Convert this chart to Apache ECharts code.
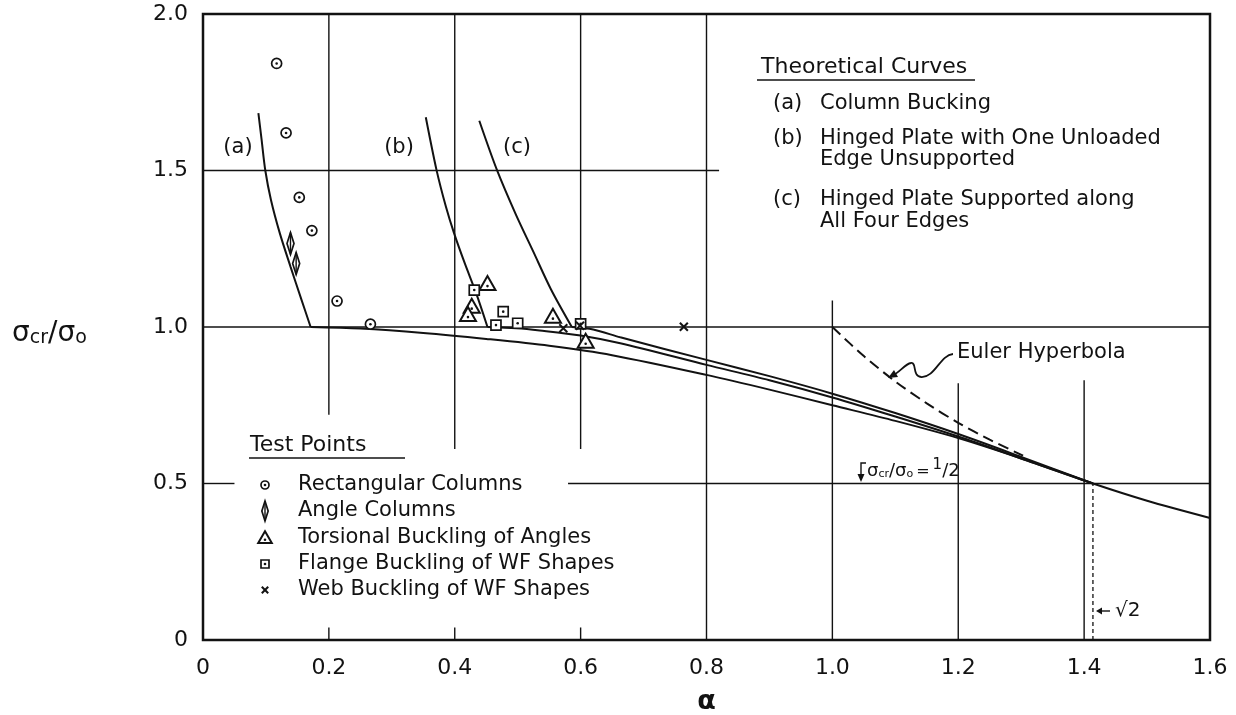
<!DOCTYPE html>
<html>
<head>
<meta charset="utf-8">
<script src="https://cdn.jsdelivr.net/npm/echarts@6/dist/echarts.min.js"></script>
<style>
  html, body { margin: 0; padding: 0; background: #fff; }
  #chart { width: 1236px; height: 715px; }
</style>
</head>
<body>
<div id="chart"></div>
<script>
// ---- axis ticks ----
const xTickLabels = ['0', '0.2', '0.4', '0.6', '0.8', '1.0', '1.2', '1.4', '1.6'];
const yTickLabels = ['0', '0.5', '1.0', '1.5', '2.0'];

// ---- theoretical curves [alpha, sigma_cr / sigma_0] ----
const curveA = [[0.088, 1.683], [0.093, 1.600], [0.099, 1.500], [0.108, 1.406], [0.122, 1.300], [0.139, 1.193], [0.156, 1.090], [0.171, 1.0]];
const curveB = [[0.354, 1.670], [0.371, 1.502], [0.386, 1.384], [0.399, 1.299], [0.416, 1.203], [0.434, 1.108], [0.452, 1.0]];
const curveC = [[0.439, 1.659], [0.467, 1.502], [0.497, 1.360], [0.525, 1.240], [0.553, 1.120], [0.586, 1.0]];
const tailB = [[0.452, 1.0], [0.498, 0.996], [0.535, 0.989], [0.6, 0.973], [0.663, 0.948], [0.8, 0.879], [0.9, 0.830], [1.0, 0.775], [1.1, 0.714], [1.2, 0.650], [1.3, 0.580], [1.414, 0.5]];
const tailC = [[0.586, 1.0], [0.62, 0.992], [0.663, 0.967], [0.8, 0.895], [0.9, 0.843], [1.0, 0.787], [1.1, 0.725], [1.2, 0.658], [1.3, 0.585], [1.414, 0.5]];
const columnCurve = [[0.171, 1.0], [0.25, 0.995], [0.35, 0.981], [0.45, 0.962], [0.55, 0.940], [0.65, 0.910], [0.8, 0.847], [0.9, 0.800], [1.0, 0.750], [1.1, 0.700], [1.2, 0.645], [1.3, 0.580], [1.414, 0.5], [1.5, 0.445], [1.6, 0.39]];
const eulerHyperbola = [[1.0, 1.0], [1.05, 0.907], [1.1, 0.826], [1.15, 0.756], [1.2, 0.694], [1.25, 0.640], [1.303, 0.589]];

// ---- test points ----
const rectangularColumns = [[0.117, 1.842], [0.132, 1.620], [0.153, 1.414], [0.173, 1.308], [0.213, 1.083], [0.266, 1.009]];
const angleColumns = [[0.139, 1.267], [0.148, 1.203]];
const torsionalAngles = [[0.452, 1.137], [0.427, 1.065], [0.421, 1.038], [0.556, 1.033], [0.608, 0.953]];
const flangeWF = [[0.431, 1.118], [0.477, 1.049], [0.4655, 1.006], [0.500, 1.012], [0.600, 1.010]];
const webWF = [[0.5725, 0.996], [0.599, 1.004], [0.764, 1.001]];

// ---- ruled lines of the chart [x1, y1, x2, y2] ----
const ruleSegments = [
  [0.2, 0.72, 0.2, 2.0], [0.2, 0, 0.2, 0.04],
  [0.4, 0.61, 0.4, 2.0], [0.4, 0, 0.4, 0.04],
  [0.6, 0.61, 0.6, 2.0], [0.6, 0, 0.6, 0.04],
  [0.8, 0, 0.8, 2.0],
  [1.0, 0, 1.0, 1.085],
  [1.2, 0, 1.2, 0.82],
  [1.4, 0, 1.4, 0.83],
  [0, 1.5, 0.82, 1.5],
  [0, 1.0, 1.6, 1.0],
  [0, 0.5, 0.05, 0.5], [0.58, 0.5, 1.6, 0.5]
];
const sqrt2Segment = [[1.414, 0, 1.414, 0.5]];

// ---- text ----
const theoryTitle = 'Theoretical Curves';
const theoryItems = [
  ['(a)', ['Column Bucking']],
  ['(b)', ['Hinged Plate with One Unloaded', 'Edge Unsupported']],
  ['(c)', ['Hinged Plate Supported along', 'All Four Edges']]
];
const testTitle = 'Test Points';
const testItems = [
  ['circle', 'Rectangular Columns'],
  ['angle', 'Angle Columns'],
  ['tri', 'Torsional Buckling of Angles'],
  ['square', 'Flange Buckling of WF Shapes'],
  ['cross', 'Web Buckling of WF Shapes']
];

const INK = '#121212';
const FONT = '"DejaVu Sans", sans-serif';

function glyph(kind, x, y, k) {
  const st = { stroke: INK, lineWidth: 1.7, fill: '#fff' };
  const dot = (dy) => ({ type: 'circle', shape: { cx: x, cy: y + (dy || 0), r: 1.3 }, style: { fill: INK } });
  switch (kind) {
    case 'circle':
      return [{ type: 'circle', shape: { cx: x, cy: y, r: 5 * k }, style: st }, dot()];
    case 'tri':
      return [{ type: 'polygon', shape: { points: [[x, y - 8 * k], [x - 8 * k, y + 6 * k], [x + 8 * k, y + 6 * k]] }, style: Object.assign({}, st, { lineWidth: 2 }) }, dot(2 * k)];
    case 'square':
      return [{ type: 'rect', shape: { x: x - 5 * k, y: y - 5 * k, width: 10 * k, height: 10 * k }, style: st }, dot()];
    case 'cross':
      return [
        { type: 'line', shape: { x1: x - 4 * k, y1: y - 4 * k, x2: x + 4 * k, y2: y + 4 * k }, style: { stroke: INK, lineWidth: 2 } },
        { type: 'line', shape: { x1: x - 4 * k, y1: y + 4 * k, x2: x + 4 * k, y2: y - 4 * k }, style: { stroke: INK, lineWidth: 2 } }
      ];
    case 'angle':
      return [
        { type: 'polygon', shape: { points: [[x, y - 11 * k], [x + 3.5 * k, y], [x, y + 11 * k], [x - 3.5 * k, y]] }, style: st },
        { type: 'line', shape: { x1: x, y1: y - 11 * k, x2: x, y2: y + 11 * k }, style: { stroke: INK, lineWidth: 1.4 } }
      ];
  }
  return [];
}

function markerSeries(name, kind, data) {
  return {
    name, type: 'custom', data, z: 6,
    encode: { x: 0, y: 1 },
    renderItem: (params, api) => {
      const p = api.coord([api.value(0), api.value(1)]);
      return { type: 'group', children: glyph(kind, p[0], p[1], 1) };
    }
  };
}

function segmentSeries(name, data, style) {
  return {
    name, type: 'custom', data, z: 2, silent: true,
    encode: { x: [0, 2], y: [1, 3] },
    renderItem: (params, api) => {
      const a = api.coord([api.value(0), api.value(1)]);
      const b = api.coord([api.value(2), api.value(3)]);
      return { type: 'line', shape: { x1: a[0], y1: a[1], x2: b[0], y2: b[1] }, style: style };
    }
  };
}

function curveSeries(name, data, dashed) {
  return {
    name, type: 'line', data, smooth: 0.3, showSymbol: false, z: 4, silent: true,
    lineStyle: { color: INK, width: 2, type: dashed ? [11, 6] : 'solid' }
  };
}

function text(x, y, str, size, align) {
  return {
    type: 'text', x, y, silent: true,
    style: { text: str, font: size + 'px ' + FONT, fill: INK, verticalAlign: 'middle', align: align || 'left' }
  };
}

const graphics = [];
// Theoretical curves key
graphics.push(text(761, 67, theoryTitle, 22));
graphics.push({ type: 'line', shape: { x1: 757, y1: 80, x2: 975, y2: 80 }, style: { stroke: INK, lineWidth: 1.6 } });
const theoryRows = [[104], [139, 160], [200, 222]];
theoryItems.forEach((item, i) => {
  graphics.push(text(773, theoryRows[i][0], item[0], 21));
  item[1].forEach((line, j) => graphics.push(text(820, theoryRows[i][j], line, 21)));
});
// curve tags
graphics.push(text(238, 148, '(a)', 21, 'center'));
graphics.push(text(399, 148, '(b)', 21, 'center'));
graphics.push(text(517, 148, '(c)', 21, 'center'));
// Test points key
graphics.push(text(250, 445, testTitle, 22));
graphics.push({ type: 'line', shape: { x1: 249, y1: 458, x2: 405, y2: 458 }, style: { stroke: INK, lineWidth: 1.6 } });
const testRows = [485, 511, 538, 564, 590];
testItems.forEach((item, i) => {
  graphics.push({ type: 'group', children: glyph(item[0], 265, testRows[i], item[0] === 'tri' ? 0.85 : item[0] === 'angle' ? 0.9 : 0.8) });
  graphics.push(text(298, testRows[i], item[1], 21));
});
// Euler hyperbola callout
graphics.push(text(957, 353, 'Euler Hyperbola', 21));
const wiggle = [
  [953, 354, 940, 355, 935, 378, 921, 377],
  [921, 377, 912, 376, 917, 362, 911, 363],
  [911, 363, 905, 364, 900, 372, 892, 376]
];
wiggle.forEach(s => graphics.push({
  type: 'bezierCurve',
  shape: { x1: s[0], y1: s[1], cpx1: s[2], cpy1: s[3], cpx2: s[4], cpy2: s[5], x2: s[6], y2: s[7] },
  style: { stroke: INK, lineWidth: 1.8, fill: null }
}));
graphics.push({ type: 'polygon', shape: { points: [[888, 378], [894, 370], [898, 377]] }, style: { fill: INK } });
// sigma ratio = 1/2 callout
graphics.push({ type: 'polyline', shape: { points: [[866, 463], [861, 463], [861, 478]] }, style: { stroke: INK, lineWidth: 1.4, fill: null } });
graphics.push({ type: 'polygon', shape: { points: [[857.5, 474], [864.5, 474], [861, 482]] }, style: { fill: INK } });
graphics.push({
  type: 'text', x: 867, y: 466, silent: true,
  style: {
    text: '{s|σ}{b|cr}{s|/σ}{b|o}{e|=}{u|1}{s|/2}',
    fill: INK, verticalAlign: 'middle',
    rich: {
      s: { fontFamily: FONT, fontSize: 18, lineHeight: 28, verticalAlign: 'bottom', fill: INK },
      e: { fontFamily: FONT, fontSize: 16, lineHeight: 28, padding: [0, 3, 0, 3], verticalAlign: 'bottom', fill: INK },
      b: { fontFamily: FONT, fontSize: 11, lineHeight: 12, padding: [6, 0, 0, 0], verticalAlign: 'bottom', fill: INK },
      u: { fontFamily: FONT, fontSize: 15, lineHeight: 15, padding: [0, 0, 7, 0], verticalAlign: 'bottom', fill: INK }
    }
  }
});
// square-root-of-two marker
graphics.push({ type: 'line', shape: { x1: 1110, y1: 611, x2: 1100, y2: 611 }, style: { stroke: INK, lineWidth: 1.4 } });
graphics.push({ type: 'polygon', shape: { points: [[1096, 611], [1102, 607.5], [1102, 614.5]] }, style: { fill: INK } });
graphics.push(text(1115, 611, '√2', 20));
// y-axis title
graphics.push({
  type: 'text', x: 12, y: 328, silent: true,
  style: {
    text: '{s|σ}{b|cr}{s|/σ}{b|o}',
    fill: INK, verticalAlign: 'middle',
    rich: {
      s: { fontFamily: FONT, fontSize: 28, lineHeight: 40, verticalAlign: 'bottom', fill: INK },
      b: { fontFamily: FONT, fontSize: 19, lineHeight: 20, padding: [10, 0, 0, 0], verticalAlign: 'bottom', fill: INK }
    }
  }
});

const chart = echarts.init(document.getElementById('chart'), null, { renderer: 'canvas' });
chart.setOption({
  animation: false,
  backgroundColor: '#fff',
  grid: {
    left: 203, right: 26, top: 14, bottom: 75,
    show: true, borderColor: INK, borderWidth: 2.5, backgroundColor: 'transparent',
    outerBoundsMode: 'none'
  },
  xAxis: {
    type: 'value', min: 0, max: 1.6, interval: 0.2,
    splitLine: { show: false }, axisLine: { show: false }, axisTick: { show: false },
    axisLabel: {
      margin: 17, color: INK, fontFamily: FONT, fontSize: 22,
      formatter: v => xTickLabels[Math.round(v / 0.2)]
    },
    name: 'α', nameLocation: 'middle', nameGap: 48,
    nameTextStyle: { color: INK, fontFamily: FONT, fontSize: 27, fontWeight: 'bold' }
  },
  yAxis: {
    type: 'value', min: 0, max: 2.0, interval: 0.5,
    splitLine: { show: false }, axisLine: { show: false }, axisTick: { show: false },
    axisLabel: {
      margin: 15, color: INK, fontFamily: FONT, fontSize: 22,
      formatter: v => yTickLabels[Math.round(v / 0.5)]
    }
  },
  series: [
    segmentSeries('rules', ruleSegments, { stroke: INK, lineWidth: 1.4 }),
    segmentSeries('sqrt2', sqrt2Segment, { stroke: INK, lineWidth: 1.3, lineDash: [4, 3] }),
    curveSeries('(a) Column Bucking', curveA),
    curveSeries('(b) Hinged Plate with One Unloaded Edge Unsupported', curveB),
    curveSeries('(c) Hinged Plate Supported along All Four Edges', curveC),
    curveSeries('(b) tail', tailB),
    curveSeries('(c) tail', tailC),
    curveSeries('Column curve', columnCurve),
    curveSeries('Euler Hyperbola', eulerHyperbola, true),
    markerSeries('Rectangular Columns', 'circle', rectangularColumns),
    markerSeries('Angle Columns', 'angle', angleColumns),
    markerSeries('Torsional Buckling of Angles', 'tri', torsionalAngles),
    markerSeries('Flange Buckling of WF Shapes', 'square', flangeWF),
    markerSeries('Web Buckling of WF Shapes', 'cross', webWF)
  ],
  graphic: graphics
});
</script>
</body>
</html>
